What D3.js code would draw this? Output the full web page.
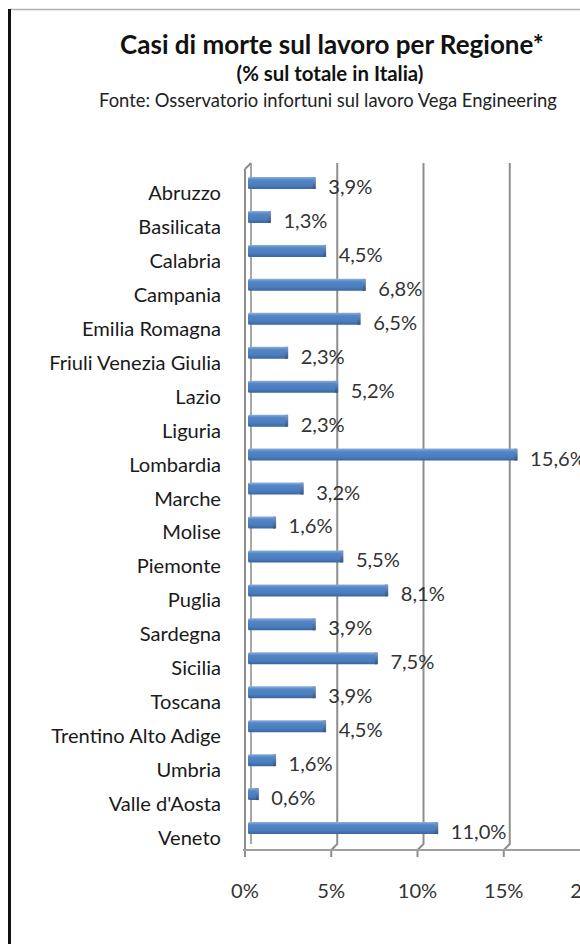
<!DOCTYPE html>
<html><head><meta charset="utf-8">
<script src="https://cdn.jsdelivr.net/npm/d3@7"></script>
<style>html,body{margin:0;padding:0;background:#fff;}svg{display:block;}</style>
</head><body>
<script>
const categories = ["Abruzzo","Basilicata","Calabria","Campania","Emilia Romagna","Friuli Venezia Giulia","Lazio","Liguria","Lombardia","Marche","Molise","Piemonte","Puglia","Sardegna","Sicilia","Toscana","Trentino Alto Adige","Umbria","Valle d'Aosta","Veneto"];
const values = [3.9,1.3,4.5,6.8,6.5,2.3,5.2,2.3,15.6,3.2,1.6,5.5,8.1,3.9,7.5,3.9,4.5,1.6,0.6,11.0];
const ticks = [0,5,10,15,20];
const title = "Casi di morte sul lavoro per Regione*";
const subtitle = "(% sul totale in Italia)";
const source = "Fonte: Osservatorio infortuni sul lavoro Vega Engineering";

const W = 580, H = 944;
const FONT = "Lato, 'Open Sans', sans-serif";
const svg = d3.select("body").append("svg").attr("width", W).attr("height", H);

// frame
svg.append("line").attr("x1",10).attr("x2",W).attr("y1",9.5).attr("y2",9.5).attr("stroke","#b0b0b0").attr("stroke-width",1.5);
svg.append("rect").attr("x",8).attr("y",9).attr("width",3).attr("height",H-9).attr("fill","#111");

// titles
function fit(sel, w){ const n=sel.node(); const l=n.getComputedTextLength(); const fs=parseFloat(sel.attr("font-size")); sel.attr("font-size", fs*w/l); }
const t1 = svg.append("text").attr("x",332).attr("y",54).attr("text-anchor","middle").attr("font-family",FONT).attr("font-weight","bold").attr("font-size",21).attr("fill","#111").text(title);
fit(t1, 424);
const t2 = svg.append("text").attr("x",330).attr("y",81).attr("text-anchor","middle").attr("font-family",FONT).attr("font-weight","bold").attr("font-size",14).attr("fill","#111").text(subtitle);
fit(t2, 187);
const t3 = svg.append("text").attr("x",328).attr("y",107).attr("text-anchor","middle").attr("font-family",FONT).attr("font-size",13).attr("fill","#222").text(source);
fit(t3, 458);

// label font size: fit the longest category label to its width in the reference
const probe = svg.append("text").attr("font-family",FONT).attr("font-size",16).text("Friuli Venezia Giulia");
const LFS = 16 * 172 / probe.node().getComputedTextLength();
probe.remove();

const x = d3.scaleLinear().domain([0,20]).range([245, 590]);
const y = d3.scaleBand().domain(categories).range([167, 846]);
const DX = 6, DY = 6;
const grid = "#8e8e8e";
const floorY = 850, topY = 163;

// back wall gridlines + floor connections
const g = svg.append("g");
ticks.filter(t=>t>0).forEach(t=>{
  const xf = x(t), xb = x(t)+DX;
  g.append("path").attr("d",`M${xb},${topY} L${xb},${floorY-DY} L${xf},${floorY} L${xf},${floorY+7}`)
    .attr("fill","none").attr("stroke",grid).attr("stroke-width",2);
});
// left wall
g.append("path").attr("d",`M${x(0)+DX},${topY} L${x(0)+DX},${floorY-DY}`).attr("fill","none").attr("stroke","#a8a8a8").attr("stroke-width",2);
g.append("path").attr("d",`M${x(0)},${topY+DY} L${x(0)+DX},${topY} M${x(0)},${topY+DY} L${x(0)},${floorY} L${x(0)},${floorY+7}`).attr("fill","none").attr("stroke",grid).attr("stroke-width",2);
// floor
g.append("line").attr("x1",x(0)-2).attr("x2",W).attr("y1",floorY).attr("y2",floorY).attr("stroke","#a0a0a0").attr("stroke-width",2);

// gradient
const defs = svg.append("defs");
const grad = defs.append("linearGradient").attr("id","barg").attr("x1",0).attr("y1",0).attr("x2",0).attr("y2",1);
[[0,"#8fb0dc"],[0.25,"#5286c6"],[0.7,"#4a7dbd"],[1,"#3b659c"]].forEach(([o,c])=>grad.append("stop").attr("offset",o).attr("stop-color",c));
const capg = defs.append("linearGradient").attr("id","capg").attr("x1",0).attr("y1",0).attr("x2",0).attr("y2",1);
[[0,"#7d9ed0"],[1,"#2f5487"]].forEach(([o,c])=>capg.append("stop").attr("offset",o).attr("stop-color",c));

const BH = 12;
const bars = svg.append("g").selectAll("g").data(categories).join("g");
bars.append("rect")
  .attr("x", x(0)+3)
  .attr("y", d => y(d)+y.bandwidth()/2 - BH/2 - 1)
  .attr("width", (d,i) => x(values[i]) - x(0))
  .attr("height", BH).attr("rx",1.5)
  .attr("fill","url(#barg)");
bars.append("rect")
  .attr("x", (d,i) => x(values[i]) + 3 - 2.5)
  .attr("y", d => y(d)+y.bandwidth()/2 - BH/2 - 1)
  .attr("width", 3).attr("height", BH)
  .attr("fill","url(#capg)");

// value labels
svg.append("g").selectAll("text").data(categories).join("text")
  .attr("x", (d,i) => x(values[i]) + 16)
  .attr("y", d => y(d)+y.bandwidth()/2 + 2)
  .attr("dominant-baseline","central")
  .attr("font-family",FONT).attr("font-size",LFS).attr("fill","#333")
  .text((d,i) => d3.format(".1f")(values[i]).replace(".",",") + "%");

// category labels
svg.append("g").selectAll("text").data(categories).join("text")
  .attr("x", 221)
  .attr("y", d => y(d)+y.bandwidth()/2 + 8)
  .attr("text-anchor","end").attr("dominant-baseline","central")
  .attr("font-family",FONT).attr("font-size",LFS).attr("fill","#1a1a1a")
  .text(d => d);

// tick labels
svg.append("g").selectAll("text").data(ticks).join("text")
  .attr("x", d => x(d))
  .attr("y", 890)
  .attr("text-anchor","middle").attr("dominant-baseline","central")
  .attr("font-family",FONT).attr("font-size",LFS).attr("fill","#333")
  .text(d => d + "%");
</script>
</body></html>
